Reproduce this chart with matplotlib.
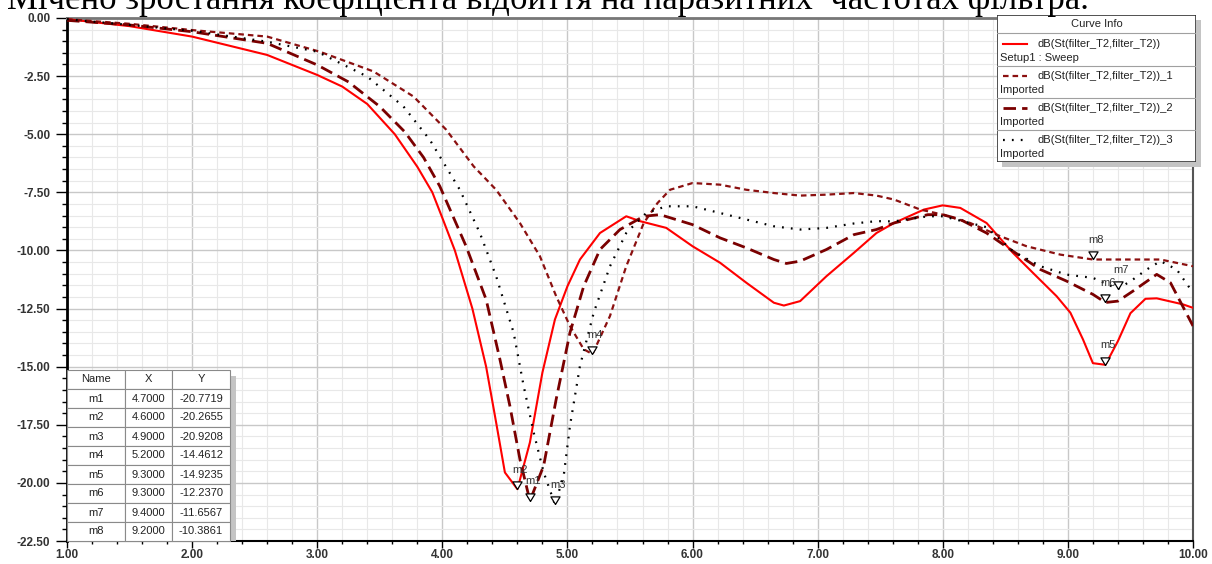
import numpy as np
import matplotlib
matplotlib.use('Agg')
import matplotlib.pyplot as plt
from matplotlib.patches import Rectangle
from matplotlib.ticker import MultipleLocator, FormatStrFormatter

plt.rcParams['font.family'] = ['Liberation Sans', 'DejaVu Sans']
plt.rcParams['axes.unicode_minus'] = False

# --- data ---
# Setup1 : Sweep (red solid)
f0 = [1.0, 1.5, 2.0, 2.6, 3.0, 3.2, 3.4, 3.62, 3.8, 3.92, 4.0, 4.1, 4.24, 4.35, 4.43, 4.5, 4.6,
      4.7, 4.8, 4.9, 5.0, 5.1, 5.26, 5.47, 5.58, 5.79, 6.0, 6.22, 6.43, 6.65, 6.73, 6.86,
      7.07, 7.29, 7.47, 7.61, 7.85, 8.0, 8.14, 8.35, 8.56, 8.72, 8.91, 9.02, 9.12, 9.2,
      9.3, 9.4, 9.5, 9.62, 9.71, 9.92, 10.0]
s0 = [-0.05, -0.35, -0.8, -1.59, -2.45, -2.95, -3.7, -5.0, -6.4, -7.5, -8.6, -10.0, -12.5,
      -15.0, -17.4, -19.55, -20.27, -18.26, -15.25, -12.97, -11.54, -10.39, -9.25, -8.53,
      -8.74, -9.03, -9.82, -10.53, -11.39, -12.25, -12.37, -12.18, -11.11, -10.10, -9.25,
      -8.82, -8.24, -8.06, -8.17, -8.82, -10.10, -10.96, -11.97, -12.68, -13.82, -14.85,
      -14.92, -13.9, -12.7, -12.08, -12.06, -12.32, -12.47]

# Imported _1 (short dash)
f1 = [1.0, 1.5, 2.0, 2.6, 3.02, 3.45, 3.77, 4.03, 4.25, 4.43, 4.62, 4.78, 4.91, 5.02, 5.13,
      5.2, 5.34, 5.47, 5.61, 5.72, 5.82, 6.0, 6.22, 6.43, 6.65, 6.86, 7.07, 7.29, 7.47,
      7.61, 7.82, 8.0, 8.22, 8.46, 8.67, 8.94, 9.2, 9.47, 9.74, 10.0]
s1 = [-0.05, -0.25, -0.52, -0.80, -1.45, -2.3, -3.38, -4.8, -6.38, -7.39, -8.82, -10.25,
      -11.97, -13.25, -14.25, -14.46, -12.82, -10.68, -8.82, -7.96, -7.39, -7.10, -7.17,
      -7.39, -7.53, -7.64, -7.60, -7.53, -7.64, -7.81, -8.24, -8.46, -8.82, -9.39, -9.82,
      -10.18, -10.39, -10.39, -10.39, -10.68]

# Imported _2 (long dash)
f2 = [1.0, 1.5, 2.0, 2.6, 3.0, 3.25, 3.5, 3.7, 3.85, 3.98, 4.19, 4.35, 4.46, 4.54, 4.62,
      4.7, 4.81, 4.91, 5.02, 5.13, 5.26, 5.42, 5.61, 5.74, 6.0, 6.22, 6.43, 6.65, 6.75,
      6.86, 7.07, 7.29, 7.47, 7.61, 7.88, 8.0, 8.14, 8.35, 8.56, 8.78, 8.99, 9.2, 9.3,
      9.4, 9.52, 9.71, 9.82, 10.0]
s2 = [-0.1, -0.3, -0.59, -1.09, -2.02, -2.75, -3.81, -4.9, -6.0, -7.24, -9.82, -12.11,
      -14.68, -16.69, -18.98, -20.77, -19.26, -16.40, -13.54, -11.54, -9.96, -9.10, -8.53,
      -8.46, -8.89, -9.46, -9.89, -10.39, -10.56, -10.46, -9.96, -9.32, -9.10, -8.82,
      -8.46, -8.46, -8.67, -9.25, -10.03, -10.82, -11.32, -11.89, -12.24, -12.18, -11.75,
      -11.03, -11.39, -13.25]

# Imported _3 (dotted)
f3 = [1.0, 1.5, 2.0, 2.6, 3.0, 3.4, 3.69, 3.9, 4.14, 4.3, 4.43, 4.57, 4.65, 4.73, 4.81,
      4.9, 4.97, 5.02, 5.1, 5.21, 5.34, 5.47, 5.63, 5.79, 6.0, 6.22, 6.43, 6.65, 6.86,
      7.07, 7.29, 7.47, 7.61, 7.88, 8.0, 8.35, 8.56, 8.78, 8.99, 9.2, 9.4, 9.52, 9.63,
      9.74, 9.87, 10.0]
s3 = [-0.05, -0.3, -0.55, -1.02, -1.45, -2.52, -3.81, -5.24, -7.39, -9.25, -11.11, -13.54,
      -15.83, -17.83, -19.55, -20.92, -19.7, -17.55, -14.97, -12.68, -10.68, -9.25, -8.39,
      -8.10, -8.10, -8.39, -8.67, -8.96, -9.10, -9.03, -8.84, -8.74, -8.75, -8.53, -8.53,
      -9.0, -10.03, -10.68, -11.04, -11.18, -11.66, -11.25, -10.82, -10.46, -10.82, -11.82]

marker_names = ['m1', 'm2', 'm3', 'm4', 'm5', 'm6', 'm7', 'm8']
marker_x = [4.7, 4.6, 4.9, 5.2, 9.3, 9.3, 9.4, 9.2]
marker_y = [-20.7719, -20.2655, -20.9208, -14.4612, -14.9235, -12.2370, -11.6567, -10.3861]

curve_names = ['dB(St(filter_T2,filter_T2))', 'dB(St(filter_T2,filter_T2))_1',
               'dB(St(filter_T2,filter_T2))_2', 'dB(St(filter_T2,filter_T2))_3']
curve_sub = ['Setup1 : Sweep', 'Imported', 'Imported', 'Imported']

W, H = 1212, 564
fig = plt.figure(figsize=(W / 100, H / 100), dpi=100)
ax = fig.add_axes([67 / W, 1 - 541 / H, (1193 - 67) / W, (541 - 18) / H])

styles = [
    dict(color='#ff0000', lw=1.5, ls='-'),
    dict(color='#8b1010', lw=1.6, ls=(0, (2.5, 1.8))),
    dict(color='#7a0000', lw=2.0, ls=(0, (4.5, 2.2))),
    dict(color='#000000', lw=1.6, ls=(0, (0.8, 3.2))),
]
for fx, sy, st in zip([f0, f1, f2, f3], [s0, s1, s2, s3], styles):
    ax.plot(fx, sy, zorder=3, **st)

# markers: hollow triangles with the apex on the point
tri = [(0, 0), (-0.6, 1.0), (0.6, 1.0), (0, 0)]
ax.scatter(marker_x, marker_y, marker=tri, s=120, facecolors='white',
           edgecolors='black', linewidths=0.9, zorder=4)
for n, mx, my in zip(marker_names, marker_x, marker_y):
    ax.annotate(n, (mx, my), xytext=(2, 14), textcoords='offset points',
                ha='center', va='center', fontsize=8, color='#333333', zorder=4)

ax.set_xlim(1, 10)
ax.set_ylim(-22.5, 0)
ax.xaxis.set_major_locator(MultipleLocator(1))
ax.xaxis.set_minor_locator(MultipleLocator(0.2))
ax.yaxis.set_major_locator(MultipleLocator(2.5))
ax.yaxis.set_minor_locator(MultipleLocator(0.5))
ax.xaxis.set_major_formatter(FormatStrFormatter('%.2f'))
ax.yaxis.set_major_formatter(FormatStrFormatter('%.2f'))
ax.grid(which='major', color='#c8c8c8', lw=1.0, zorder=0)
ax.grid(which='minor', color='#e8e8e8', lw=0.8, zorder=0)
ax.set_axisbelow(True)
ax.tick_params(axis='y', which='major', length=8, width=1, color='black',
               labelsize=8.5, labelcolor='#333333', pad=4)
ax.tick_params(axis='y', which='minor', length=3.5, width=1, color='black')
ax.tick_params(axis='x', which='major', length=5, width=1, color='black',
               labelsize=8.5, labelcolor='#333333', pad=1)
ax.tick_params(axis='x', which='minor', length=2.5, width=1, color='black')
for lab in ax.get_xticklabels() + ax.get_yticklabels():
    lab.set_fontweight('bold')
ax.spines['left'].set_linewidth(2)
ax.spines['bottom'].set_linewidth(1.5)
ax.spines['top'].set_color('#777777')
ax.spines['top'].set_linewidth(2)
ax.spines['right'].set_color('#555555')
ax.spines['right'].set_linewidth(1.5)

# marker table
rows = [[n, '%.4f' % x, '%.4f' % y] for n, x, y in zip(marker_names, marker_x, marker_y)]
tw = (230 - 67) / (1193 - 67)
th = (541 - 370) / (541 - 18)
ax.add_patch(Rectangle((tw, 0), 6 / 1126, th - 6 / 523, transform=ax.transAxes,
                       facecolor='#c4c4c4', edgecolor='none', zorder=5))
tab = ax.table(cellText=rows, colLabels=['Name', 'X', 'Y'], cellLoc='center',
               colWidths=[58, 47, 58], bbox=[0, 0, tw, th], zorder=6)
tab.auto_set_font_size(False)
tab.set_fontsize(8)
for (r, c), cell in tab.get_celld().items():
    cell.set_edgecolor('#8a8a8a')
    cell.set_linewidth(0.8)
    cell.set_facecolor('white')
    cell.get_text().set_color('#222222')

# curve info box
lx0, ly0, lw_, lh_ = 997, 15, 199, 147
sh = fig.add_axes([(lx0 + 5) / W, 1 - (ly0 + lh_ + 5) / H, lw_ / W, lh_ / H])
sh.axis('off')
sh.add_patch(Rectangle((0, 0), 1, 1, transform=sh.transAxes, facecolor='#c4c4c4',
                       edgecolor='none'))
lg = fig.add_axes([lx0 / W, 1 - (ly0 + lh_) / H, lw_ / W, lh_ / H])
lg.set_xlim(0, lw_)
lg.set_ylim(lh_, 0)
lg.axis('off')
lg.add_patch(Rectangle((0, 0), lw_, lh_, facecolor='white', edgecolor='#333333', lw=1.2))
lg.text(lw_ / 2, 9, 'Curve Info', ha='center', va='center', fontsize=8, color='#222222')
for sep in [18, 51, 83, 115]:
    lg.plot([0, lw_], [sep, sep], color='#a0a0a0', lw=0.8)
for i, (nm, sub, st) in enumerate(zip(curve_names, curve_sub, styles)):
    top = 18 + 32 * i
    lg.plot([6, 30], [top + 11, top + 11], **st)
    lg.text(40, top + 11, nm, ha='left', va='center', fontsize=8, color='#222222')
    lg.text(3, top + 25, sub, ha='left', va='center', fontsize=8, color='#222222')

# cropped caption line at the top of the screenshot
fig.text(7 / W, 1 - 9 / H, 'Мічено зростання коефіцієнта відбиття на паразитних  частотах фільтра.',
         family=['Liberation Serif', 'DejaVu Serif'], fontsize=25, ha='left', va='baseline',
         color='black')

fig.savefig('out.png', dpi=100)
